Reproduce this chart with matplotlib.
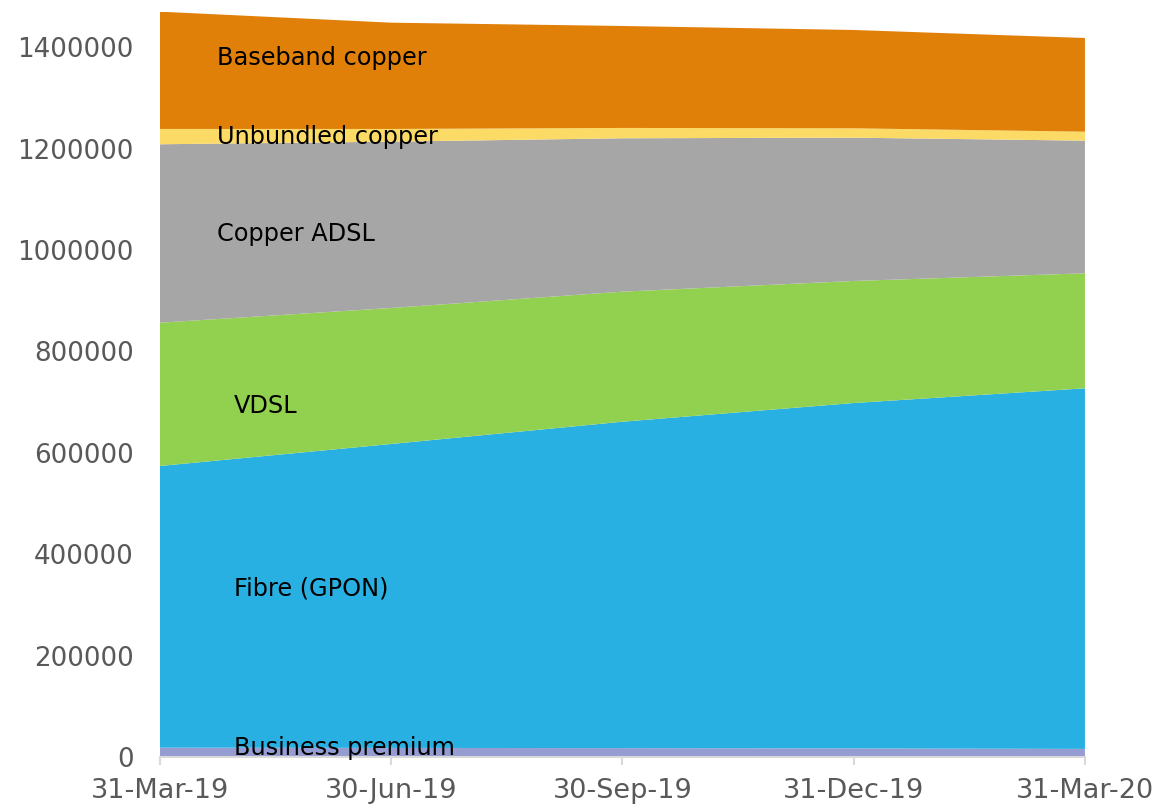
import matplotlib
matplotlib.use("Agg")
import matplotlib.pyplot as plt
import numpy as np

dates = ["31-Mar-19", "30-Jun-19", "30-Sep-19", "31-Dec-19", "31-Mar-20"]
business_premium = [18500, 18000, 17500, 17000, 16000]
fibre_gpon = [555500, 599400, 643800, 681200, 711200]
vdsl = [282600, 268200, 256500, 240700, 226800]
copper_adsl = [351900, 328000, 302500, 282600, 261600]
unbundled_copper = [30200, 25100, 20400, 18500, 17700]
baseband_copper = [231300, 209600, 201100, 193900, 184800]

series_names = ["Business premium", "Fibre (GPON)", "VDSL", "Copper ADSL",
                "Unbundled copper", "Baseband copper"]
colors = ["#959CD2", "#29B0E3", "#92D050", "#A6A6A6", "#FCDA66", "#E08009"]

plt.rcParams['font.family'] = ['DejaVu Sans']

fig = plt.figure(figsize=(11.6, 8.05), dpi=100)
ax = fig.add_axes([0.1379, 0.0596, 0.9353 - 0.1379, 0.9855 - 0.0596])

x = np.arange(len(dates))
ax.stackplot(x, business_premium, fibre_gpon, vdsl, copper_adsl,
             unbundled_copper, baseband_copper, colors=colors,
             linewidth=0)

ax.set_xlim(0, len(dates) - 1)
ax.set_ylim(0, 1470000)
ax.set_xticks(x)
ax.set_xticklabels(dates)
ax.set_yticks(np.arange(0, 1400001, 200000))
ax.set_yticklabels([str(v) for v in range(0, 1400001, 200000)])

for s in ["top", "right", "left"]:
    ax.spines[s].set_visible(False)
ax.spines["bottom"].set_color("#D9D9D9")
ax.spines["bottom"].set_linewidth(1.5)
ax.tick_params(axis="x", direction="out", length=6, width=1.5, color="#D9D9D9",
               labelsize=19.5, labelcolor="#595959", pad=9)
ax.tick_params(axis="y", length=0, labelsize=18.8, labelcolor="#595959", pad=19)

labels = [
    ("Baseband copper", 0.246, 1378700),
    ("Unbundled copper", 0.246, 1222900),
    ("Copper ADSL", 0.246, 1031600),
    ("VDSL", 0.32, 692300),
    ("Fibre (GPON)", 0.32, 333300),
    ("Business premium", 0.32, 17750),
]
for txt, lx, ly in labels:
    ax.text(lx, ly, txt, fontsize=17.3, color="black", ha="left", va="center")

fig.savefig("out.png", dpi=100)
